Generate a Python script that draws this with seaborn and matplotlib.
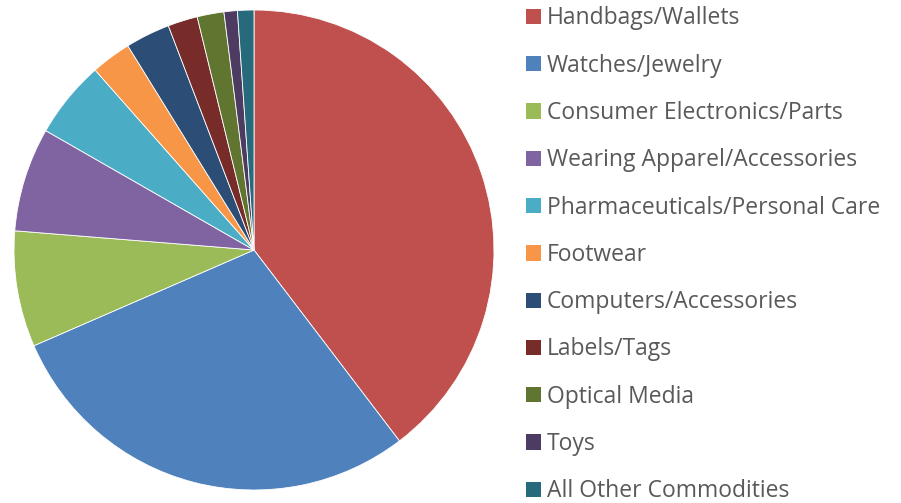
import matplotlib
matplotlib.use("Agg")
import matplotlib.pyplot as plt
import seaborn as sns
from matplotlib.patches import Patch

categories = ["Handbags/Wallets", "Watches/Jewelry", "Consumer Electronics/Parts",
              "Wearing Apparel/Accessories", "Pharmaceuticals/Personal Care", "Footwear",
              "Computers/Accessories", "Labels/Tags", "Optical Media", "Toys",
              "All Other Commodities"]
shares = [39.6, 28.8, 7.8, 7.0, 5.2, 2.7, 3.0, 2.0, 1.8, 0.9, 1.1]
colors = ["#C0504D", "#4F81BD", "#9BBB59", "#8064A2", "#4BACC6", "#F79646",
          "#2C4D75", "#772C2A", "#5F7530", "#4D3B62", "#276A7C"]

sns.set_theme(style="white")
plt.rcParams['font.family'] = ['Open Sans', 'DejaVu Sans']
palette = sns.color_palette(colors)

W, H = 901, 503
fig = plt.figure(figsize=(W / 100, H / 100), dpi=100)
cx, cy, R = 254, 250, 240
ax = fig.add_axes([(cx - R) / W, (H - cy - R) / H, 2 * R / W, 2 * R / H])
ax.pie(shares, colors=palette, startangle=90, counterclock=False, radius=1,
       wedgeprops=dict(edgecolor="white", linewidth=0.6))
ax.set_xlim(-1, 1)
ax.set_ylim(-1, 1)
ax.set_aspect("equal")
ax.axis("off")

handles = [Patch(facecolor=c, edgecolor="none") for c in palette]
fs = 16.5
leg = fig.legend(handles, categories, loc="upper left",
                 bbox_to_anchor=(526 / W, 1 - 6.5 / H),
                 frameon=False, fontsize=fs, labelcolor="#595959",
                 handlelength=0.65, handleheight=0.65, handletextpad=0.26,
                 labelspacing=1.016, borderpad=0, borderaxespad=0)
fig.savefig("out.png", dpi=100)
